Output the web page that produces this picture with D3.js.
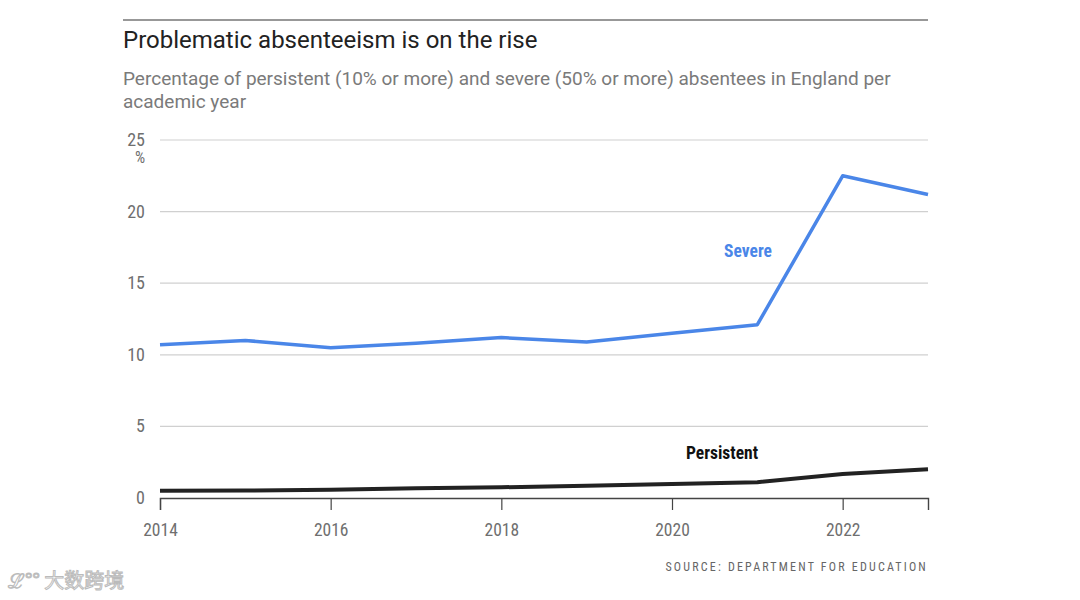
<!DOCTYPE html>
<html>
<head>
<meta charset="utf-8">
<script src="https://cdn.jsdelivr.net/npm/d3@7"></script>
<style>
  body { margin: 0; background: #fff; }
  svg { display: block; }
</style>
</head>
<body>
<div class="content"></div>
<script>
// academic years, values
var years = [2014, 2015, 2016, 2017, 2018, 2019, 2020, 2021, 2022, 2023];
var severe = [10.7, 11.0, 10.5, 10.8, 11.2, 10.9, 11.5, 12.1, 22.5, 21.2];
var persistent = [0.5, 0.52, 0.58, 0.68, 0.75, 0.85, 0.97, 1.1, 1.68, 2.0];
var yTicks = [0, 5, 10, 15, 20, 25];
var xTicks = [2014, 2016, 2018, 2020, 2022];

var narrow = '"Liberation Sans Narrow", "Roboto Condensed", Roboto, sans-serif';

var svg = d3.select('.content').append('svg')
    .attr('width', 1080)
    .attr('height', 600);

var x = d3.scaleLinear().domain([2014, 2023]).range([160, 928]);
var y = d3.scaleLinear().domain([0, 25]).range([498, 140]);

// top rule + titles
svg.append('line')
    .attr('x1', 123).attr('x2', 928)
    .attr('y1', 20).attr('y2', 20)
    .attr('stroke', '#333').attr('stroke-width', 1.2);

svg.append('text')
    .attr('x', 123).attr('y', 48)
    .attr('font-family', 'Roboto, sans-serif')
    .attr('font-size', 24)
    .attr('fill', '#222')
    .text('Problematic absenteeism is on the rise');

var sub = ['Percentage of persistent (10% or more) and severe (50% or more) absentees in England per',
           'academic year'];
sub.forEach(function(s, i) {
    svg.append('text')
        .attr('x', 123).attr('y', 85 + i * 23)
        .attr('font-family', 'Roboto, sans-serif')
        .attr('font-size', 19)
        .attr('fill', '#7a7a7a')
        .text(s);
});

// gridlines
svg.append('g').selectAll('line')
    .data(yTicks.filter(function(d) { return d > 0; }))
    .enter().append('line')
    .attr('x1', 160).attr('x2', 928)
    .attr('y1', function(d) { return y(d); })
    .attr('y2', function(d) { return y(d); })
    .attr('stroke', '#d0d0d0').attr('stroke-width', 1.2);

// y labels
svg.append('g').selectAll('text')
    .data(yTicks)
    .enter().append('text')
    .attr('x', 145)
    .attr('y', function(d) { return y(d) + 6; })
    .attr('text-anchor', 'end')
    .attr('font-family', narrow)
    .attr('font-size', 18)
    .attr('fill', '#6f6f6f')
    .text(function(d) { return d; });

svg.append('text')
    .attr('x', 145).attr('y', y(25) + 23)
    .attr('text-anchor', 'end')
    .attr('font-family', narrow)
    .attr('font-size', 16)
    .attr('fill', '#6f6f6f')
    .text('%');

// x axis
var xAxis = d3.axisBottom(x)
    .tickValues(xTicks)
    .tickFormat(d3.format('d'))
    .tickSize(12)
    .tickPadding(14);

var gx = svg.append('g')
    .attr('transform', 'translate(0,' + y(0) + ')')
    .call(xAxis);
gx.select('.domain').attr('stroke', '#444').attr('stroke-width', 1.4);
gx.selectAll('.tick line').attr('stroke', '#444').attr('stroke-width', 1.2);
gx.selectAll('.tick text')
    .attr('font-family', narrow)
    .attr('font-size', 17.5)
    .attr('fill', '#6f6f6f');

// lines
var line = d3.line()
    .x(function(d, i) { return x(years[i]); })
    .y(function(d) { return y(d); });

svg.append('path')
    .datum(severe)
    .attr('d', line)
    .attr('fill', 'none')
    .attr('stroke', '#4a86e8')
    .attr('stroke-width', 3.5)
    .attr('stroke-linejoin', 'round');

svg.append('path')
    .datum(persistent)
    .attr('d', line)
    .attr('fill', 'none')
    .attr('stroke', '#222')
    .attr('stroke-width', 4)
    .attr('stroke-linejoin', 'round');

// series labels
svg.append('text')
    .attr('x', 748).attr('y', y(17.1) + 4)
    .attr('text-anchor', 'middle')
    .attr('font-family', narrow)
    .attr('font-weight', 'bold')
    .attr('font-size', 17.5)
    .attr('fill', '#4a86e8')
    .text('Severe');

svg.append('text')
    .attr('x', 722).attr('y', y(2.95) + 3)
    .attr('text-anchor', 'middle')
    .attr('font-family', narrow)
    .attr('font-weight', 'bold')
    .attr('font-size', 17.5)
    .attr('fill', '#111')
    .text('Persistent');

// source
svg.append('text')
    .attr('x', 928).attr('y', 571)
    .attr('text-anchor', 'end')
    .attr('font-family', narrow)
    .attr('font-size', 12)
    .attr('letter-spacing', 2.2)
    .attr('fill', '#666')
    .text('SOURCE: DEPARTMENT FOR EDUCATION');

// watermark
svg.append('text')
    .attr('x', 8).attr('y', 588)
    .attr('font-family', '"Noto Sans CJK SC", sans-serif')
    .attr('font-size', 20)
    .attr('fill', '#fff')
    .attr('stroke', '#bbb')
    .attr('stroke-width', 1)
    .text('\u2112\u00b0\u00b0 大数跨境');
</script>
</body>
</html>
